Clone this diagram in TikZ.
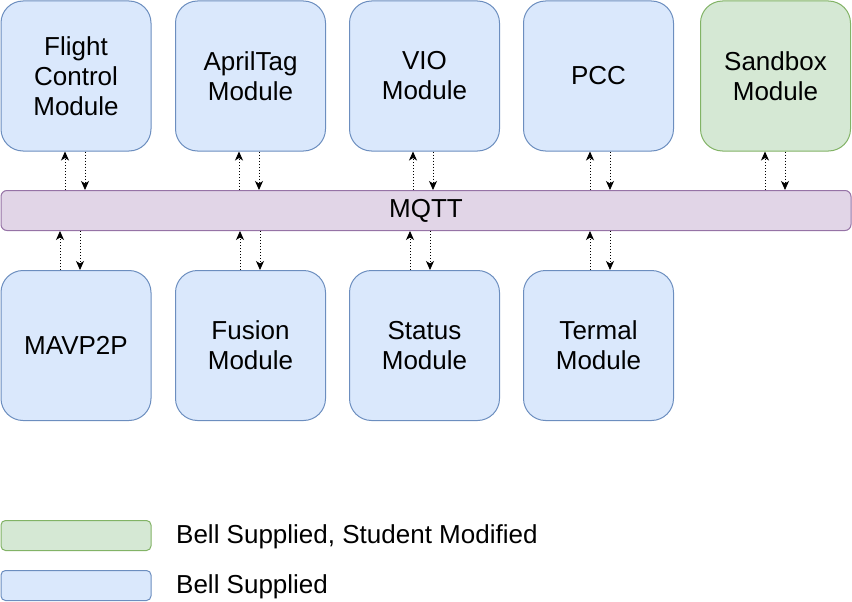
\documentclass[tikz,border=0pt]{standalone}
\usepackage{fontspec}
\setmainfont{Liberation Sans}
\usetikzlibrary{arrows.meta}
\definecolor{bluefill}{HTML}{DAE8FC}
\definecolor{bluedraw}{HTML}{6C8EBF}
\definecolor{greenfill}{HTML}{D5E8D4}
\definecolor{greendraw}{HTML}{82B366}
\definecolor{purplefill}{HTML}{E1D5E7}
\definecolor{purpledraw}{HTML}{9673A6}
\tikzset{
  box/.style={draw=bluedraw, fill=bluefill, rounded corners=22pt, line width=1pt,
    minimum width=150pt, minimum height=150pt, inner sep=0pt, anchor=north west,
    align=center, font=\fontsize{26}{30}\selectfont},
  gbox/.style={box, draw=greendraw, fill=greenfill},
  bar/.style={draw=purpledraw, fill=purplefill, rounded corners=6pt, line width=1pt,
    minimum width=850pt, minimum height=40pt, inner sep=0pt, anchor=north west,
    font=\fontsize{26}{30}\selectfont},
  leg/.style={rounded corners=4.5pt, line width=1pt, minimum width=150pt,
    minimum height=30pt, inner sep=0pt, anchor=north west},
  legtext/.style={anchor=base west, inner sep=0pt, font=\fontsize{26}{30}\selectfont},
  conn/.style={dash pattern=on 1pt off 2pt, line width=0.8pt,
    -{Stealth[length=9pt,width=8pt,inset=2.5pt,sep=0pt]}}
}
\begin{document}
\begin{tikzpicture}[x=1pt,y=-1pt]
\useasboundingbox (0,0) rectangle (852,602);
% top row
\node[box] (fc) at (0.5,0.5) {Flight\\Control\\Module};
\node[box] (at) at (175,0.5) {AprilTag\\Module};
\node[box] (vio) at (349,0.5) {VIO\\Module};
\node[box] (pcc) at (523,0.5) {PCC};
\node[gbox] (sb) at (700,0.5) {Sandbox\\Module};
% bar
\node[bar] (mqtt) at (0.5,190) {MQTT};
% bottom row
\node[box] (mav) at (0.5,270) {MAVP2P};
\node[box] (fus) at (175,270) {Fusion\\Module};
\node[box] (st) at (349,270) {Status\\Module};
\node[box] (ter) at (523,270) {Termal\\Module};
% connectors top
\foreach \n/\u/\d in {fc/65/85, at/239/259, vio/413/433, pcc/590/610, sb/765/785}{
  \draw[conn] (mqtt.north west -| \u,0) -- (\n.south west -| \u,0);
  \draw[conn] (\n.south west -| \d,0) -- (mqtt.north west -| \d,0);
}
% connectors bottom
\foreach \n/\u/\d in {mav/60/80, fus/240/260, st/410/430, ter/590/610}{
  \draw[conn] (\n.north west -| \u,0) -- (mqtt.south west -| \u,0);
  \draw[conn] (mqtt.south west -| \d,0) -- (\n.north west -| \d,0);
}
% legend
\node[leg, draw=greendraw, fill=greenfill] (lg) at (0.5,520) {};
\node[leg, draw=bluedraw, fill=bluefill] (lb) at (0.5,570) {};
\node[legtext] (lgt) at (176,543) {Bell Supplied, Student Modified};
\node[legtext] (lbt) at (176,593) {Bell Supplied};
\end{tikzpicture}
\end{document}
